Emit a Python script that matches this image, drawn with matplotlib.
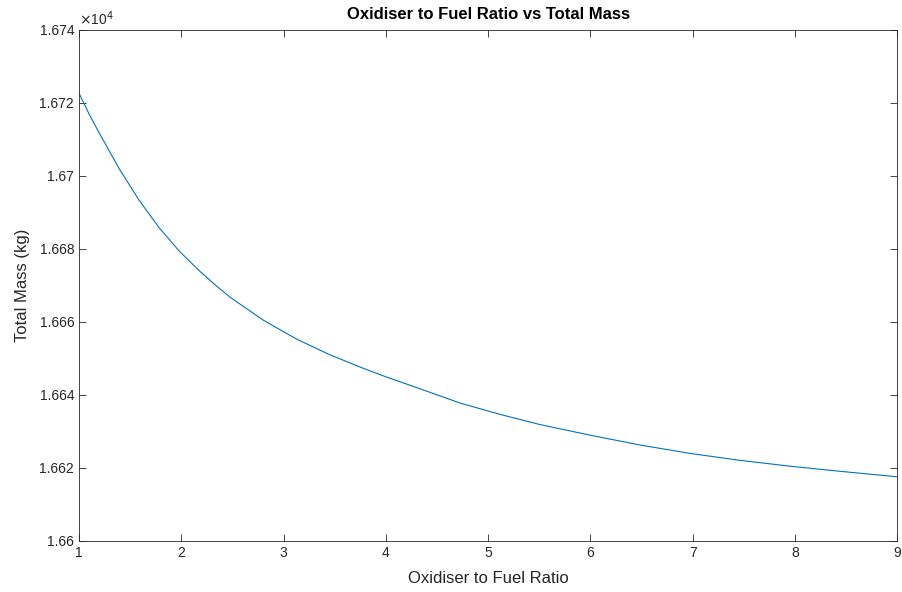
import matplotlib.pyplot as plt
from matplotlib.ticker import FuncFormatter

plt.rcParams['font.family'] = ['Liberation Sans', 'DejaVu Sans']

# values (total mass in kg)
of_ratio = [1.0, 1.1, 1.196, 1.391, 1.587, 1.782, 1.978, 2.174, 2.343, 2.477, 2.803,
            3.129, 3.455, 3.781, 4.0, 4.335, 4.726, 5.117, 5.509, 5.998, 6.487,
            6.976, 7.465, 7.954, 8.443, 9.0]
total_mass = [16722.6, 16716.8, 16711.8, 16702.0, 16693.3, 16685.8, 16679.4, 16674.0,
              16669.8, 16666.7, 16660.4, 16655.2, 16650.9, 16647.2, 16644.9, 16641.6,
              16637.7, 16634.6, 16631.8, 16628.9, 16626.2, 16623.9, 16622.0, 16620.4,
              16619.0, 16617.5]

x_ticks = [1, 2, 3, 4, 5, 6, 7, 8, 9]
y_ticks = [16600, 16620, 16640, 16660, 16680, 16700, 16720, 16740]

dark = '#262626'

fig = plt.figure(figsize=(9.02, 5.92), dpi=100)
ax = fig.add_axes([0.0876, 0.0867, 0.9072, 0.8631])
ax.plot(of_ratio, total_mass, color='#0072BD', lw=0.8)

ax.set_xlim(1, 9)
ax.set_ylim(16600, 16740)
ax.set_xticks(x_ticks)
ax.set_yticks(y_ticks)
ax.yaxis.set_major_formatter(FuncFormatter(lambda v, p: f'{v / 1e4:g}'))

ax.tick_params(direction='in', top=True, right=True, labelsize=10,
               colors=dark, length=5, width=0.6)
for s in ax.spines.values():
    s.set_color(dark)
    s.set_linewidth(0.6)

ax.text(0.0, 1.003, r'$\times$10$^{4}$', transform=ax.transAxes, fontsize=10,
        color=dark, ha='left', va='bottom')

ax.set_xlabel('Oxidiser to Fuel Ratio', fontsize=12, color=dark, labelpad=8)
ax.set_ylabel('Total Mass (kg)', fontsize=12, color=dark, labelpad=7)
ax.set_title('Oxidiser to Fuel Ratio vs Total Mass', fontsize=12,
             fontweight='bold', color='black', pad=8)

plt.savefig('out.png')
